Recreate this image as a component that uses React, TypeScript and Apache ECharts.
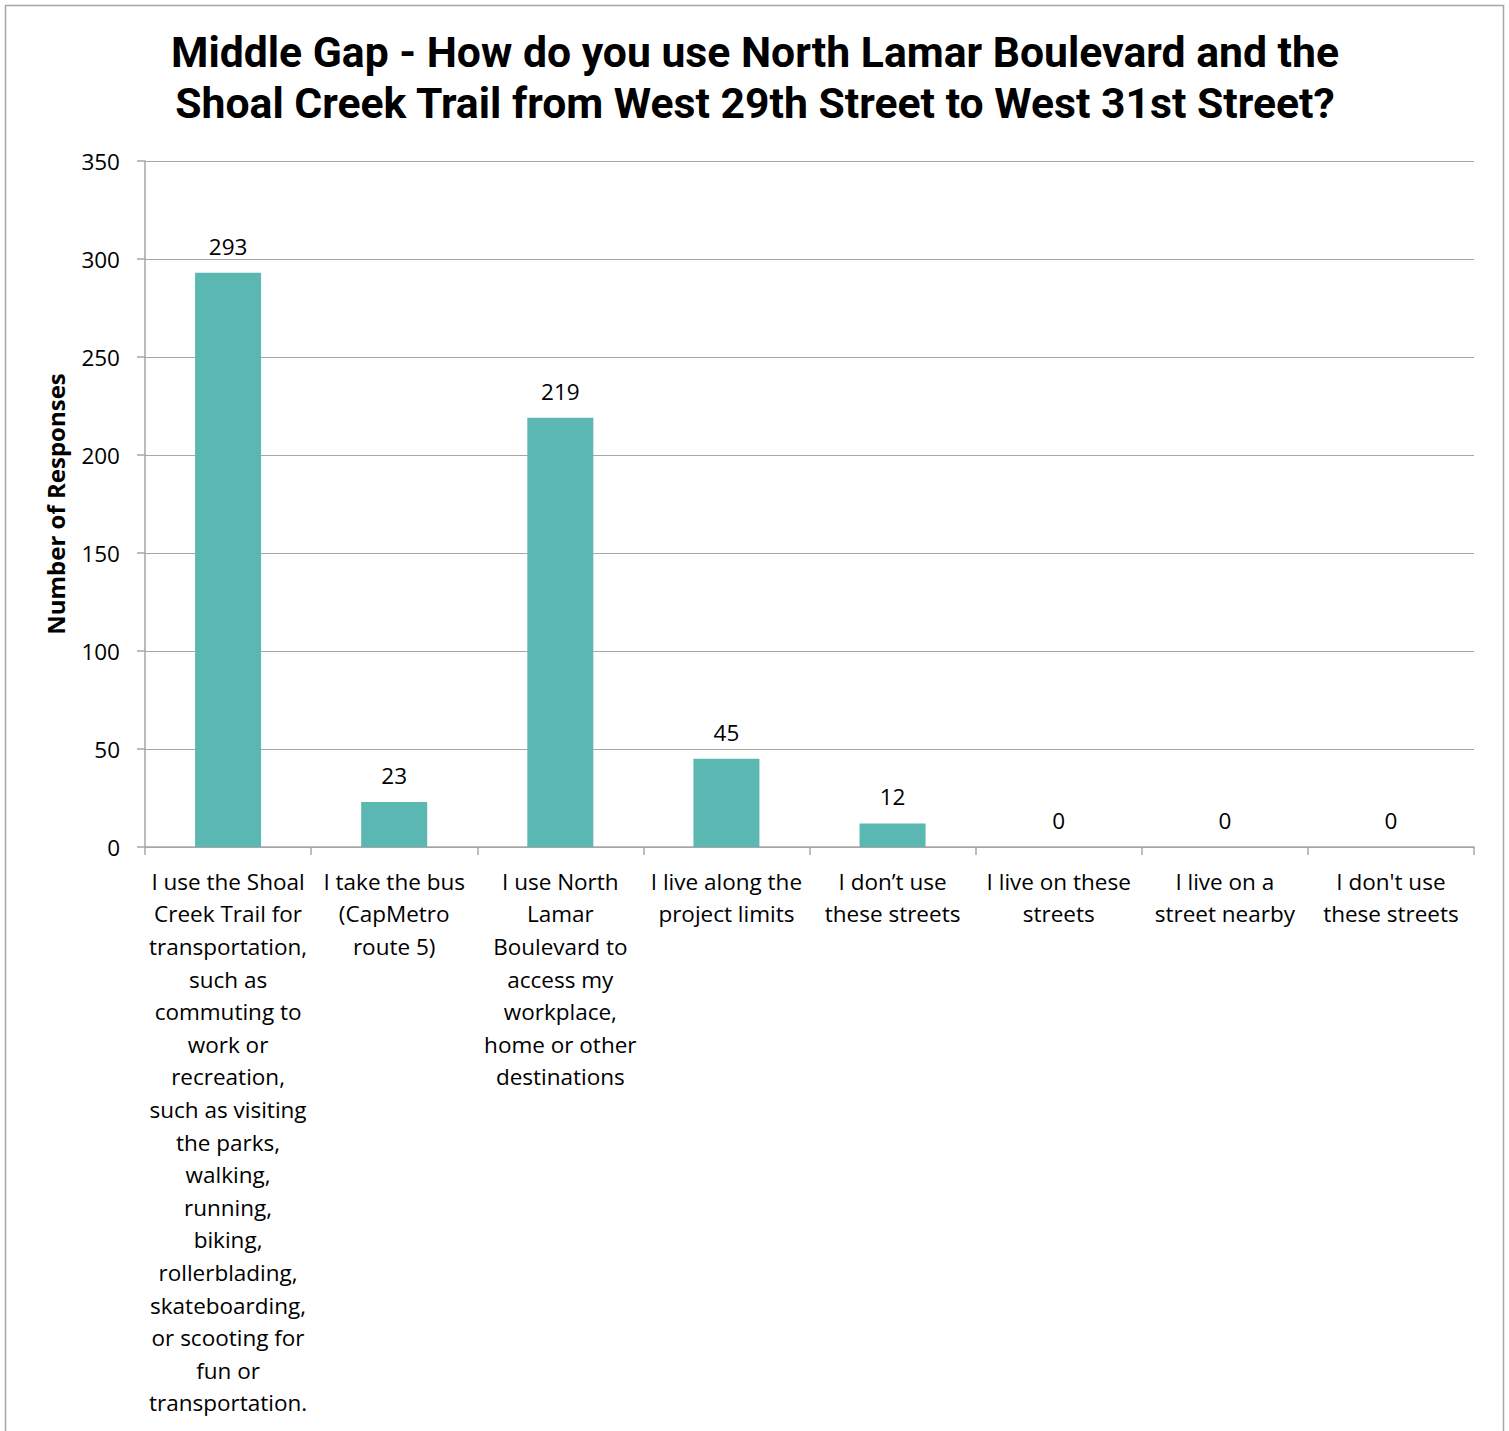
import React, { useEffect, useRef } from "react";
import * as echarts from "echarts";

const categories: string[] = [
  "I use the Shoal\nCreek Trail for\ntransportation,\nsuch as\ncommuting to\nwork or\nrecreation,\nsuch as visiting\nthe parks,\nwalking,\nrunning,\nbiking,\nrollerblading,\nskateboarding,\nor scooting for\nfun or\ntransportation.",
  "I take the bus\n(CapMetro\nroute 5)",
  "I use North\nLamar\nBoulevard to\naccess my\nworkplace,\nhome or other\ndestinations",
  "I live along the\nproject limits",
  "I don’t use\nthese streets",
  "I live on these\nstreets",
  "I live on a\nstreet nearby",
  "I don't use\nthese streets",
];
const responses: number[] = [293, 23, 219, 45, 12, 0, 0, 0];
const yTicks = { min: 0, max: 350, interval: 50 };

const titleText =
  "Middle Gap - How do you use North Lamar Boulevard and the\nShoal Creek Trail from West 29th Street to West 31st Street?";

export default function App() {
  const ref = useRef<HTMLDivElement>(null);
  useEffect(() => {
    if (!ref.current) return;
    const chart = echarts.init(ref.current, undefined, { renderer: "svg" });
    const labelFont = "'Open Sans', 'Noto Sans', sans-serif";
    chart.setOption({
      animation: false,
      backgroundColor: "#ffffff",
      title: {
        text: titleText,
        left: 750,
        textAlign: "center",
        top: 21,
        textStyle: {
          fontFamily: "Roboto, sans-serif",
          fontWeight: "bold",
          fontSize: 42.7,
          lineHeight: 51,
          color: "#000000",
        },
      },
      graphic: [
        {
          type: "polyline",
          shape: { points: [[5.5, 1440], [5.5, 5.5], [1503.5, 5.5], [1503.5, 1440]] },
          style: { stroke: "#a6a6a6", lineWidth: 1.5, fill: "none" },
          silent: true,
        },
      ],
      grid: { left: 145, right: 35, top: 161, bottom: 584, containLabel: false },
      xAxis: {
        type: "category",
        data: categories,
        boundaryGap: true,
        axisLine: { show: true, lineStyle: { color: "#a6a6a6", width: 1.5 } },
        axisTick: { show: true, length: 8, alignWithLabel: false, lineStyle: { color: "#a6a6a6", width: 1.5 } },
        axisLabel: {
          interval: 0,
          margin: 18,
          color: "#000000",
          fontFamily: labelFont,
          fontSize: 22.5,
          lineHeight: 32.6,
          align: "center",
        },
      },
      yAxis: {
        type: "value",
        min: yTicks.min,
        max: yTicks.max,
        interval: yTicks.interval,
        name: "Number of Responses",
        nameLocation: "middle",
        nameGap: 78,
        nameRotate: 90,
        nameTextStyle: {
          fontFamily: labelFont,
          fontWeight: "bold",
          fontSize: 24,
          color: "#000000",
        },
        axisLine: { show: true, lineStyle: { color: "#a6a6a6", width: 1.5 } },
        axisTick: { show: true, length: 8, lineStyle: { color: "#a6a6a6", width: 1.5 } },
        splitLine: { show: true, lineStyle: { color: "#a6a6a6", width: 1.2 } },
        axisLabel: {
          margin: 25,
          color: "#000000",
          fontFamily: labelFont,
          fontSize: 22.5,
        },
      },
      series: [
        {
          type: "bar",
          data: responses,
          barWidth: 66,
          itemStyle: { color: "#5bb7b2" },
          label: {
            show: true,
            position: "top",
            distance: 15,
            color: "#000000",
            fontFamily: labelFont,
            fontSize: 22.5,
          },
        },
      ],
    });
    return () => chart.dispose();
  }, []);
  return (
    <div
      ref={ref}
      style={{ position: "absolute", left: 0, top: 0, width: 1509, height: 1431 }}
    />
  );
}
